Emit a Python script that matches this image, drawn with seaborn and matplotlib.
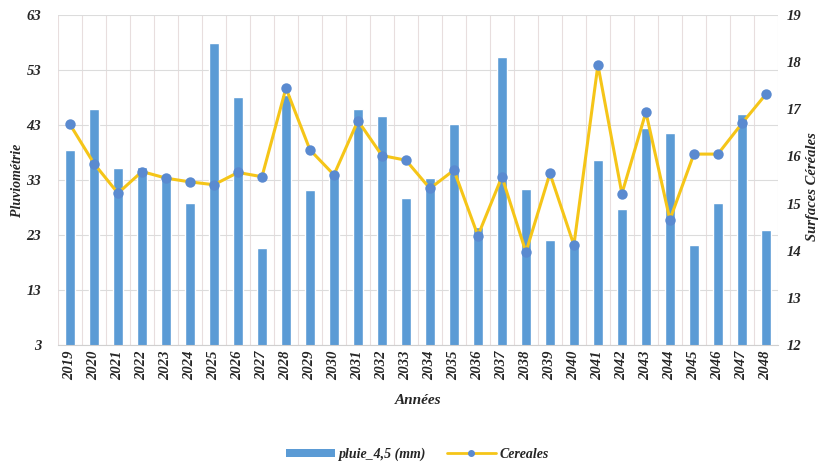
import numpy as np
import pandas as pd
import matplotlib
matplotlib.use("Agg")
import matplotlib.pyplot as plt
from matplotlib.patches import Patch
from matplotlib.lines import Line2D
import seaborn as sns

# Years on the x axis
years = [str(y) for y in range(2019, 2049)]

# Rainfall (mm), left axis
pluie = [38.5, 46.0, 35.1, 35.4, 33.6, 28.8, 57.9, 48.1, 20.6, 48.5,
         31.1, 33.9, 45.9, 44.6, 29.7, 33.3, 43.2, 24.5, 55.3, 31.3,
         22.1, 21.5, 36.6, 27.7, 42.4, 41.6, 21.2, 28.8, 45.0, 23.9]

# Cereal surfaces, right axis
cereales = [16.68, 15.85, 15.22, 15.68, 15.54, 15.46, 15.40, 15.66, 15.57, 17.45,
            16.14, 15.61, 16.76, 16.02, 15.92, 15.32, 15.71, 14.32, 15.57, 13.97,
            15.64, 14.12, 17.94, 15.21, 16.94, 14.66, 16.05, 16.05, 16.70, 17.32]

left_ticks = [3, 13, 23, 33, 43, 53, 63]
right_ticks = [12, 13, 14, 15, 16, 17, 18, 19]

bar_color = "#5B9BD5"
marker_color = "#5A8AD0"
line_color = "#F5C518"
grid_color = "#DCDCDC"

df = pd.DataFrame({"annee": years, "pluie": pluie, "cereales": cereales})

sns.set_theme(style="white")
plt.rcParams["font.family"] = ["Liberation Serif", "DejaVu Serif"]

fig = plt.figure(figsize=(8.19, 4.66), dpi=100)
ax = fig.add_axes([0.0708, 0.2597, 0.879, 0.708])

tick_font = dict(fontsize=10.5, fontweight="bold", fontstyle="italic")
label_font = dict(fontsize=11, fontweight="bold", fontstyle="italic")

# vertical separators between categories
for b in np.arange(len(years) + 1) - 0.5:
    ax.axvline(b, color="#E8DEDE", lw=0.8, zorder=0)
for t in left_ticks:
    ax.axhline(t, color=grid_color, lw=0.8, zorder=0)

sns.barplot(data=df, x="annee", y="pluie", color=bar_color, saturation=1,
            width=0.43, ax=ax, zorder=2)
ax.set_ylim(3, 63)
ax.set_yticks(left_ticks)
ax.set_yticklabels([str(t) for t in left_ticks], **tick_font)
ax.set_xlim(-0.5, len(years) - 0.5)
ax.set_xticks(np.arange(len(years)))
ax.set_xticklabels(years, rotation=90, **tick_font)
ax.tick_params(axis="y", length=0, pad=12)
ax.tick_params(axis="x", length=0, pad=4)
ax.set_xlabel("Années", labelpad=10, **label_font)
ax.set_ylabel("Pluviométrie", fontsize=10, fontweight="bold", fontstyle="italic")
ax.yaxis.set_label_coords(-0.047, 0.5)
for s in ["top", "left", "right"]:
    ax.spines[s].set_visible(False)
ax.spines["bottom"].set_color("#D0D0D0")
ax.spines["bottom"].set_linewidth(0.8)

ax2 = ax.twinx()
sns.lineplot(x=np.arange(len(years)), y=cereales, ax=ax2, color=line_color,
             lw=2.2, marker="o", markersize=7.5, markerfacecolor=marker_color,
             markeredgecolor=marker_color, markeredgewidth=0, zorder=3)
ax2.set_ylim(12, 19)
ax2.set_yticks(right_ticks)
ax2.set_yticklabels([str(t) for t in right_ticks], **tick_font)
ax2.tick_params(axis="y", length=0, pad=6)
ax2.set_ylabel("Surfaces Céréales", rotation=90, fontsize=10.5,
               fontweight="bold", fontstyle="italic")
ax2.yaxis.set_label_coords(1.0385, 0.48)
for s in ax2.spines.values():
    s.set_visible(False)
ax2.grid(False)

handles = [
    Patch(facecolor=bar_color, edgecolor="none"),
    Line2D([0], [0], color=line_color, lw=2, marker="o", markersize=4,
           markerfacecolor=marker_color, markeredgecolor=marker_color),
]
fig.legend(handles, ["pluie_4,5 (mm)", "Cereales"], loc="center",
           bbox_to_anchor=(0.51, 0.025), ncol=2, frameon=False,
           prop=dict(family=["Liberation Serif"], size=10, weight="bold", style="italic"),
           handlelength=3.5, handleheight=0.5, columnspacing=1.5, handletextpad=0.3)

fig.savefig("out.png", dpi=100)
